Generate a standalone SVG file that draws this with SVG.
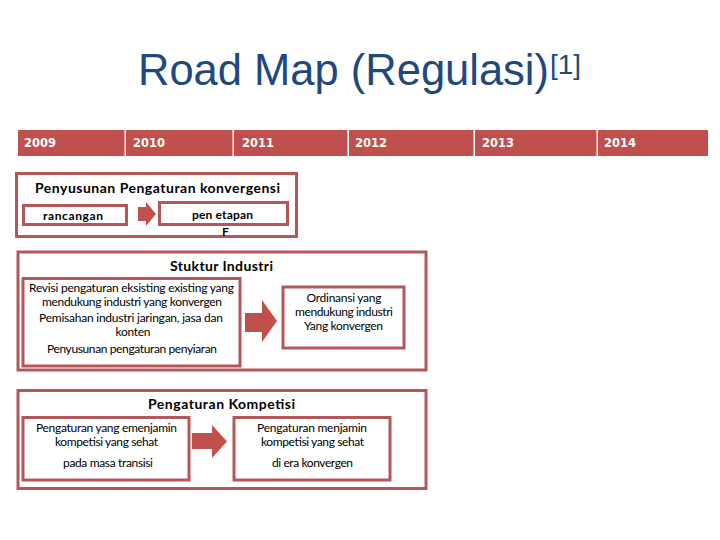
<svg xmlns="http://www.w3.org/2000/svg" width="720" height="540" viewBox="0 0 720 540" xml:space="preserve">
<style>
.bg{fill:#ffffff}
.seg{fill:#c0504d}
.yr{font-family:"DejaVu Sans",Verdana,sans-serif;font-weight:bold;font-size:11.5px;fill:#ffffff}
.box{fill:#ffffff;stroke:#b3585a;stroke-width:3}
.arr{fill:#c0504d}
.hd{font-family:Lato,"Liberation Sans",sans-serif;font-weight:bold;font-size:14px;fill:#000000;text-anchor:middle}
.tx{font-family:Lato,"Liberation Sans",sans-serif;font-size:12px;fill:#000000;text-anchor:middle}
.ttl{font-family:"Liberation Sans",Arial,sans-serif;fill:#1f497d}
</style>
<rect class="bg" x="0" y="0" width="720" height="540"/>
<g id="title">
<text class="ttl" x="138" y="85" font-size="43.5">Road Map (Regulasi)</text>
<text class="ttl" x="550" y="74" font-size="28">[1]</text>
</g>
<g id="timeline">
<rect class="seg" x="18" y="130" width="106.5" height="26"/>
<rect class="seg" x="126" y="130" width="106.5" height="26"/>
<rect class="seg" x="234" y="130" width="113.5" height="26"/>
<rect class="seg" x="349" y="130" width="124.5" height="26"/>
<rect class="seg" x="475" y="130" width="121.5" height="26"/>
<rect class="seg" x="598" y="130" width="110" height="26"/>
<text class="yr" x="24" y="147">2009</text>
<text class="yr" x="133" y="147">2010</text>
<text class="yr" x="242" y="147">2011</text>
<text class="yr" x="355" y="147">2012</text>
<text class="yr" x="482" y="147">2013</text>
<text class="yr" x="604" y="147">2014</text>
</g>
<g id="konvergensi">
<rect class="box" x="16.5" y="173.5" width="280" height="63"/>
<text class="hd" x="157.5" y="193" textLength="245">Penyusunan Pengaturan konvergensi</text>
</g>
<g id="rancangan">
<rect class="box" x="23.5" y="205.5" width="103" height="19"/>
<text class="tx" x="73" y="220" font-size="13" font-weight="bold" textLength="60">rancangan</text>
</g>
<g id="penetapan">
<rect class="box" x="159.5" y="202.5" width="128" height="22"/>
<text class="tx" x="222.5" y="219" font-size="13" font-weight="bold" textLength="61">pen etapan</text>
<text class="tx" x="225.5" y="235.5" font-size="13" font-weight="bold">F</text>
</g>
<g id="stuktur">
<rect class="box" x="18" y="252" width="408" height="118"/>
<text class="hd" x="221.5" y="271" textLength="103">Stuktur Industri</text>
</g>
<g id="revisi">
<rect class="box" x="23" y="278.5" width="217" height="87.5"/>
<text class="tx" x="131.5" y="292" textLength="205">Revisi pengaturan eksisting  existing yang</text>
<text class="tx" x="132" y="305.5" textLength="180">mendukung  industri yang konvergen</text>
<text class="tx" x="131" y="322" textLength="184">Pemisahan industri jaringan,  jasa dan</text>
<text class="tx" x="133" y="336" textLength="35">konten</text>
<text class="tx" x="132" y="352.5" textLength="170">Penyusunan pengaturan penyiaran</text>
</g>
<g id="ordinansi">
<rect class="box" x="283" y="287" width="121" height="61"/>
<text class="tx" x="344" y="302" textLength="75">Ordinansi  yang</text>
<text class="tx" x="344" y="316" textLength="98">mendukung  industri</text>
<text class="tx" x="343.5" y="330" textLength="79">Yang konvergen</text>
</g>
<g id="kompetisi">
<rect class="box" x="18" y="390.5" width="408" height="98"/>
<text class="hd" x="221.5" y="409" textLength="147">Pengaturan Kompetisi</text>
</g>
<g id="transisi">
<rect class="box" x="23" y="417.5" width="166" height="62.5"/>
<text class="tx" x="106.5" y="432" textLength="141">Pengaturan yang emenjamin</text>
<text class="tx" x="106.5" y="446" textLength="103">kompetisi yang sehat</text>
<text class="tx" x="108" y="467" textLength="90">pada masa transisi</text>
</g>
<g id="era">
<rect class="box" x="234" y="417.5" width="156" height="62.5"/>
<text class="tx" x="312" y="432" textLength="110">Pengaturan  menjamin</text>
<text class="tx" x="312.5" y="446" textLength="103">kompetisi yang sehat</text>
<text class="tx" x="312.5" y="467" textLength="81">di era konvergen</text>
</g>
<g id="connectors">
<polygon class="arr" points="138,207 146,207 146,202 156,214 146,226 146,221 138,221"/>
<polygon class="arr" points="245,313 262,313 262,300 277,321 262,342 262,332 245,332"/>
<polygon class="arr" points="192,433 212,433 212,425 227,441.5 212,458 212,449 192,449"/>
</g>
</svg>
